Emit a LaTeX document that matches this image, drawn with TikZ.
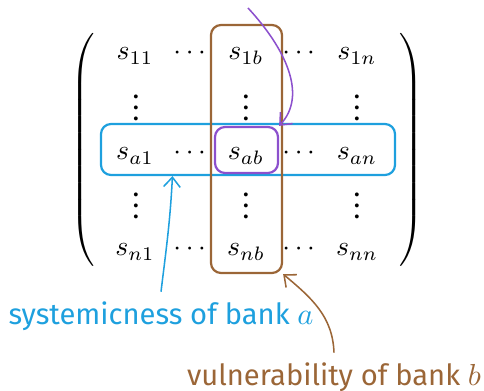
\documentclass[tikz,border=0pt]{standalone}
\usepackage{amsmath}
\usepackage{fontspec}
\setmainfont{Fira Sans}
\usetikzlibrary{calc,positioning,arrows.meta}
\definecolor{sysblue}{RGB}{30,160,222}
\definecolor{vulbrown}{RGB}{155,102,55}
\definecolor{cellpurple}{RGB}{140,80,205}

\begin{document}
\begin{tikzpicture}[x=0.36pt,y=-0.36pt,
    entry/.style={anchor=base,inner sep=0pt},
    hlbox/.style={draw,line width=0.8pt,rounded corners=3.6pt,inner sep=0pt},
    pointer/.style={line width=0.55pt,-{Straight Barb[length=3.5pt,width=6pt]}},
    caption/.style={font=\fontsize{10.5}{12}\selectfont}]
  \useasboundingbox (0,0) rectangle (484,391);
  % matrix entries
  \foreach \r/\y in {1/60, a/160, n/256}{
    \node[entry] (s\r-1) at (135,\y) {$s_{\r 1}$};
    \node[entry] (d\r-1) at (192,\y) {$\cdots$};
    \node[entry] (s\r-b) at (246,\y) {$s_{\r b}$};
    \node[entry] (d\r-b) at (301,\y) {$\cdots$};
    \node[entry] (s\r-n) at (357,\y) {$s_{\r n}$};
  }
  \foreach \v/\y in {u/121, l/219}{
    \node[entry] (v\v-1) at (136,\y) {$\smash{\vdots}$};
    \node[entry] (v\v-b) at (246,\y) {$\smash{\vdots}$};
    \node[entry] (v\v-n) at (357,\y) {$\smash{\vdots}$};
  }
  \node (lpar) at (84,150) {$\left(\vcenter{\hbox{\rule{0pt}{89pt}}}\right.$};
  \node (rpar) at (410,150) {$\left.\vcenter{\hbox{\rule{0pt}{89pt}}}\right)$};
  % highlighted row, column and cell
  \node[hlbox,sysblue,minimum width=105.84pt,minimum height=18.36pt] (rowa) at (248,149.5) {};
  \node[hlbox,vulbrown,minimum width=25.56pt,minimum height=89.28pt] (colb) at (246.5,149) {};
  \node[hlbox,cellpurple,minimum width=22.68pt,minimum height=16.56pt] (cellab) at (246.5,150) {};
  % labels
  \node[caption,sysblue] (syslab) at (161,316) {systemicness of bank $a$};
  \node[caption,vulbrown] (vullab) at (334,377) {vulnerability of bank $b$};
  \coordinate (rowpt) at ($(rowa.south west)!0.245!(rowa.south east)$);
  \coordinate (ptop) at (248,8);
  \draw[pointer,sysblue] (syslab.north) to[out=83,in=-93] (rowpt);
  \draw[pointer,vulbrown] (vullab.north) to[out=92,in=-40] (colb.south east);
  \draw[pointer,cellpurple] (ptop) .. controls (285,48) and (308,95) .. (cellab.north east);
\end{tikzpicture}
\end{document}
